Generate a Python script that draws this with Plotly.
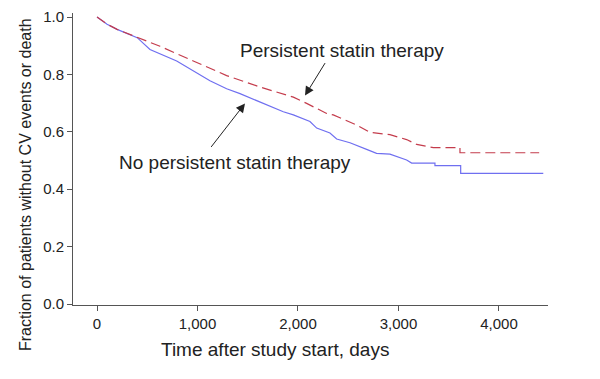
import plotly.graph_objects as go

# Persistent statin therapy (red dashed)
t_persist = [0, 100, 200, 400, 627, 958, 1290, 1622, 1954, 2086, 2285, 2351, 2583, 2716, 2915, 3081, 3181, 3347, 3612, 3612, 4400]
s_persist = [1.0, 0.975, 0.957, 0.930, 0.898, 0.847, 0.796, 0.756, 0.721, 0.699, 0.664, 0.659, 0.624, 0.598, 0.590, 0.573, 0.556, 0.545, 0.545, 0.527, 0.527]

# No persistent statin therapy (blue solid)
t_nopersist = [0, 100, 200, 400, 527, 793, 1124, 1290, 1423, 1622, 1854, 1954, 2119, 2186, 2318, 2385, 2517, 2683, 2782, 2915, 2981, 3081, 3131, 3363, 3363, 3619, 3619, 4441]
s_nopersist = [1.0, 0.975, 0.957, 0.928, 0.887, 0.847, 0.778, 0.750, 0.733, 0.704, 0.670, 0.659, 0.636, 0.613, 0.596, 0.575, 0.562, 0.539, 0.525, 0.522, 0.513, 0.502, 0.491, 0.491, 0.482, 0.482, 0.455, 0.455]

x_ticks = [0, 1000, 2000, 3000, 4000]
y_ticks = [0.0, 0.2, 0.4, 0.6, 0.8, 1.0]

W, H = 600, 379
OFF = 8  # page body offset
l, r, t, b = 65, 60, 0, 82
pw, ph = W - l - r, H - t - b
font = "Liberation Sans, Arial, sans-serif"


def P(px, py):
    px -= OFF
    py -= OFF
    return (px - l) / pw, 1 - (py - t) / ph


fig = go.Figure()
fig.add_trace(go.Scatter(x=t_nopersist, y=s_nopersist, mode="lines",
                         line=dict(color="#6f6ff0", width=1.2), showlegend=False))
fig.add_trace(go.Scatter(x=t_persist, y=s_persist, mode="lines",
                         line=dict(color="#c43c4c", width=1.2, dash="10px,5px"), showlegend=False))

anns = []
for text, px, py, size, angle in [
    ("Persistent statin therapy", 342, 46, 19, 0),
    ("No persistent statin therapy", 235, 160, 19, 0),
    ("Time after study start, days", 275, 350, 19, 0),
    ("Fraction of patients without CV events or death", 25, 183, 16, -90),
]:
    x, y = P(px, py)
    anns.append(dict(text=text, xref="paper", yref="paper", x=x, y=y,
                     xanchor="center", yanchor="middle", showarrow=False,
                     textangle=angle, font=dict(size=size, family=font, color="#222")))

for (tx, ty), (hx, hy) in [((326, 58), (305, 92)), ((210, 145), (245, 100))]:
    x, y = P(hx, hy)
    anns.append(dict(x=x, y=y, ax=tx - hx, ay=ty - hy, xref="paper", yref="paper",
                     axref="pixel", ayref="pixel", text="", showarrow=True,
                     arrowhead=2, arrowsize=1.8, arrowwidth=1, arrowcolor="#222"))

fig.update_layout(
    width=W, height=H,
    margin=dict(l=l, r=r, t=t, b=b),
    plot_bgcolor="white", paper_bgcolor="white",
    font=dict(family=font, color="#222"),
    xaxis=dict(range=[-239, 4488], tickvals=x_ticks, tickformat=",d",
               showgrid=False, zeroline=False, showline=True, linecolor="#555",
               ticks="outside", ticklen=5, tickcolor="#555", ticklabeloverflow="allow",
               tickfont=dict(size=15, family=font, color="#222")),
    yaxis=dict(range=[-0.0034, 1.014], tickvals=y_ticks, tickformat=".1f",
               showgrid=False, zeroline=False, showline=True, linecolor="#555",
               ticks="outside", ticklen=5, tickcolor="#555", ticklabeloverflow="allow",
               tickfont=dict(size=15, family=font, color="#222")),
    annotations=anns,
)

fig.write_html("out.html")
